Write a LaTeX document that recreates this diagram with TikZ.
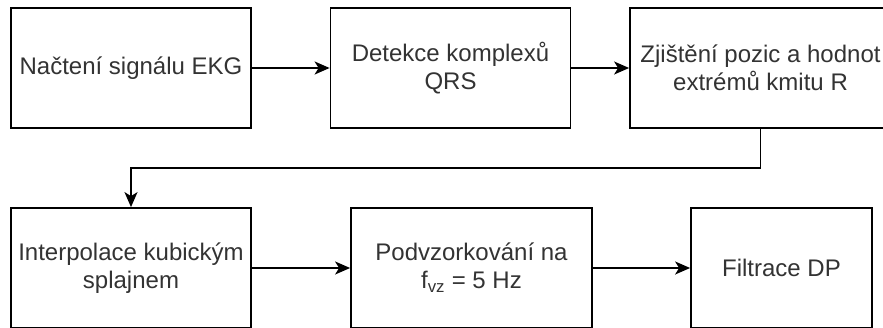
\documentclass[tikz,border=0pt]{standalone}
\usepackage{fontspec}
\setmainfont{Liberation Sans}
\usetikzlibrary{arrows.meta}
\definecolor{txt}{HTML}{333333}
\tikzset{
  stepbox/.style={draw=black, line width=1.8pt, fill=white, rectangle,
    minimum width=240pt, minimum height=120pt, inner sep=0pt,
    align=center, text=txt, font=\fontsize{24}{28}\selectfont},
  flow/.style={line width=1.8pt, -{Stealth[length=15pt,width=13pt,inset=4pt]}}
}
\begin{document}
\begin{tikzpicture}[x=1pt,y=-1pt]
  \useasboundingbox (0,0) rectangle (883,327);
  \clip (0,0) rectangle (883,327);
  % top row
  \node[stepbox] (load) at (131,68) {Načtení signálu EKG};
  \node[stepbox] (qrs) at (450.5,68) {Detekce komplexů\\QRS};
  \node[stepbox, minimum width=261pt] (peaks) at (760.5,68) {Zjištění pozic a hodnot\\extrémů kmitu R};
  % bottom row
  \node[stepbox] (spline) at (131,268) {Interpolace kubickým\\splajnem};
  \node[stepbox, minimum width=241pt] (resample) at (471.5,268) {Podvzorkování na\\f\textsubscript{vz} = 5 Hz};
  \node[stepbox, minimum width=181pt] (filter) at (781.5,268) {Filtrace DP};
  % connectors
  \draw[flow] (load) -- (qrs);
  \draw[flow] (qrs) -- (peaks);
  \coordinate (turn) at (0,168);
  \draw[flow] (peaks.south) |- (turn -| spline.north) -- (spline.north);
  \draw[flow] (spline) -- (resample);
  \draw[flow] (resample) -- (filter);
\end{tikzpicture}
\end{document}
